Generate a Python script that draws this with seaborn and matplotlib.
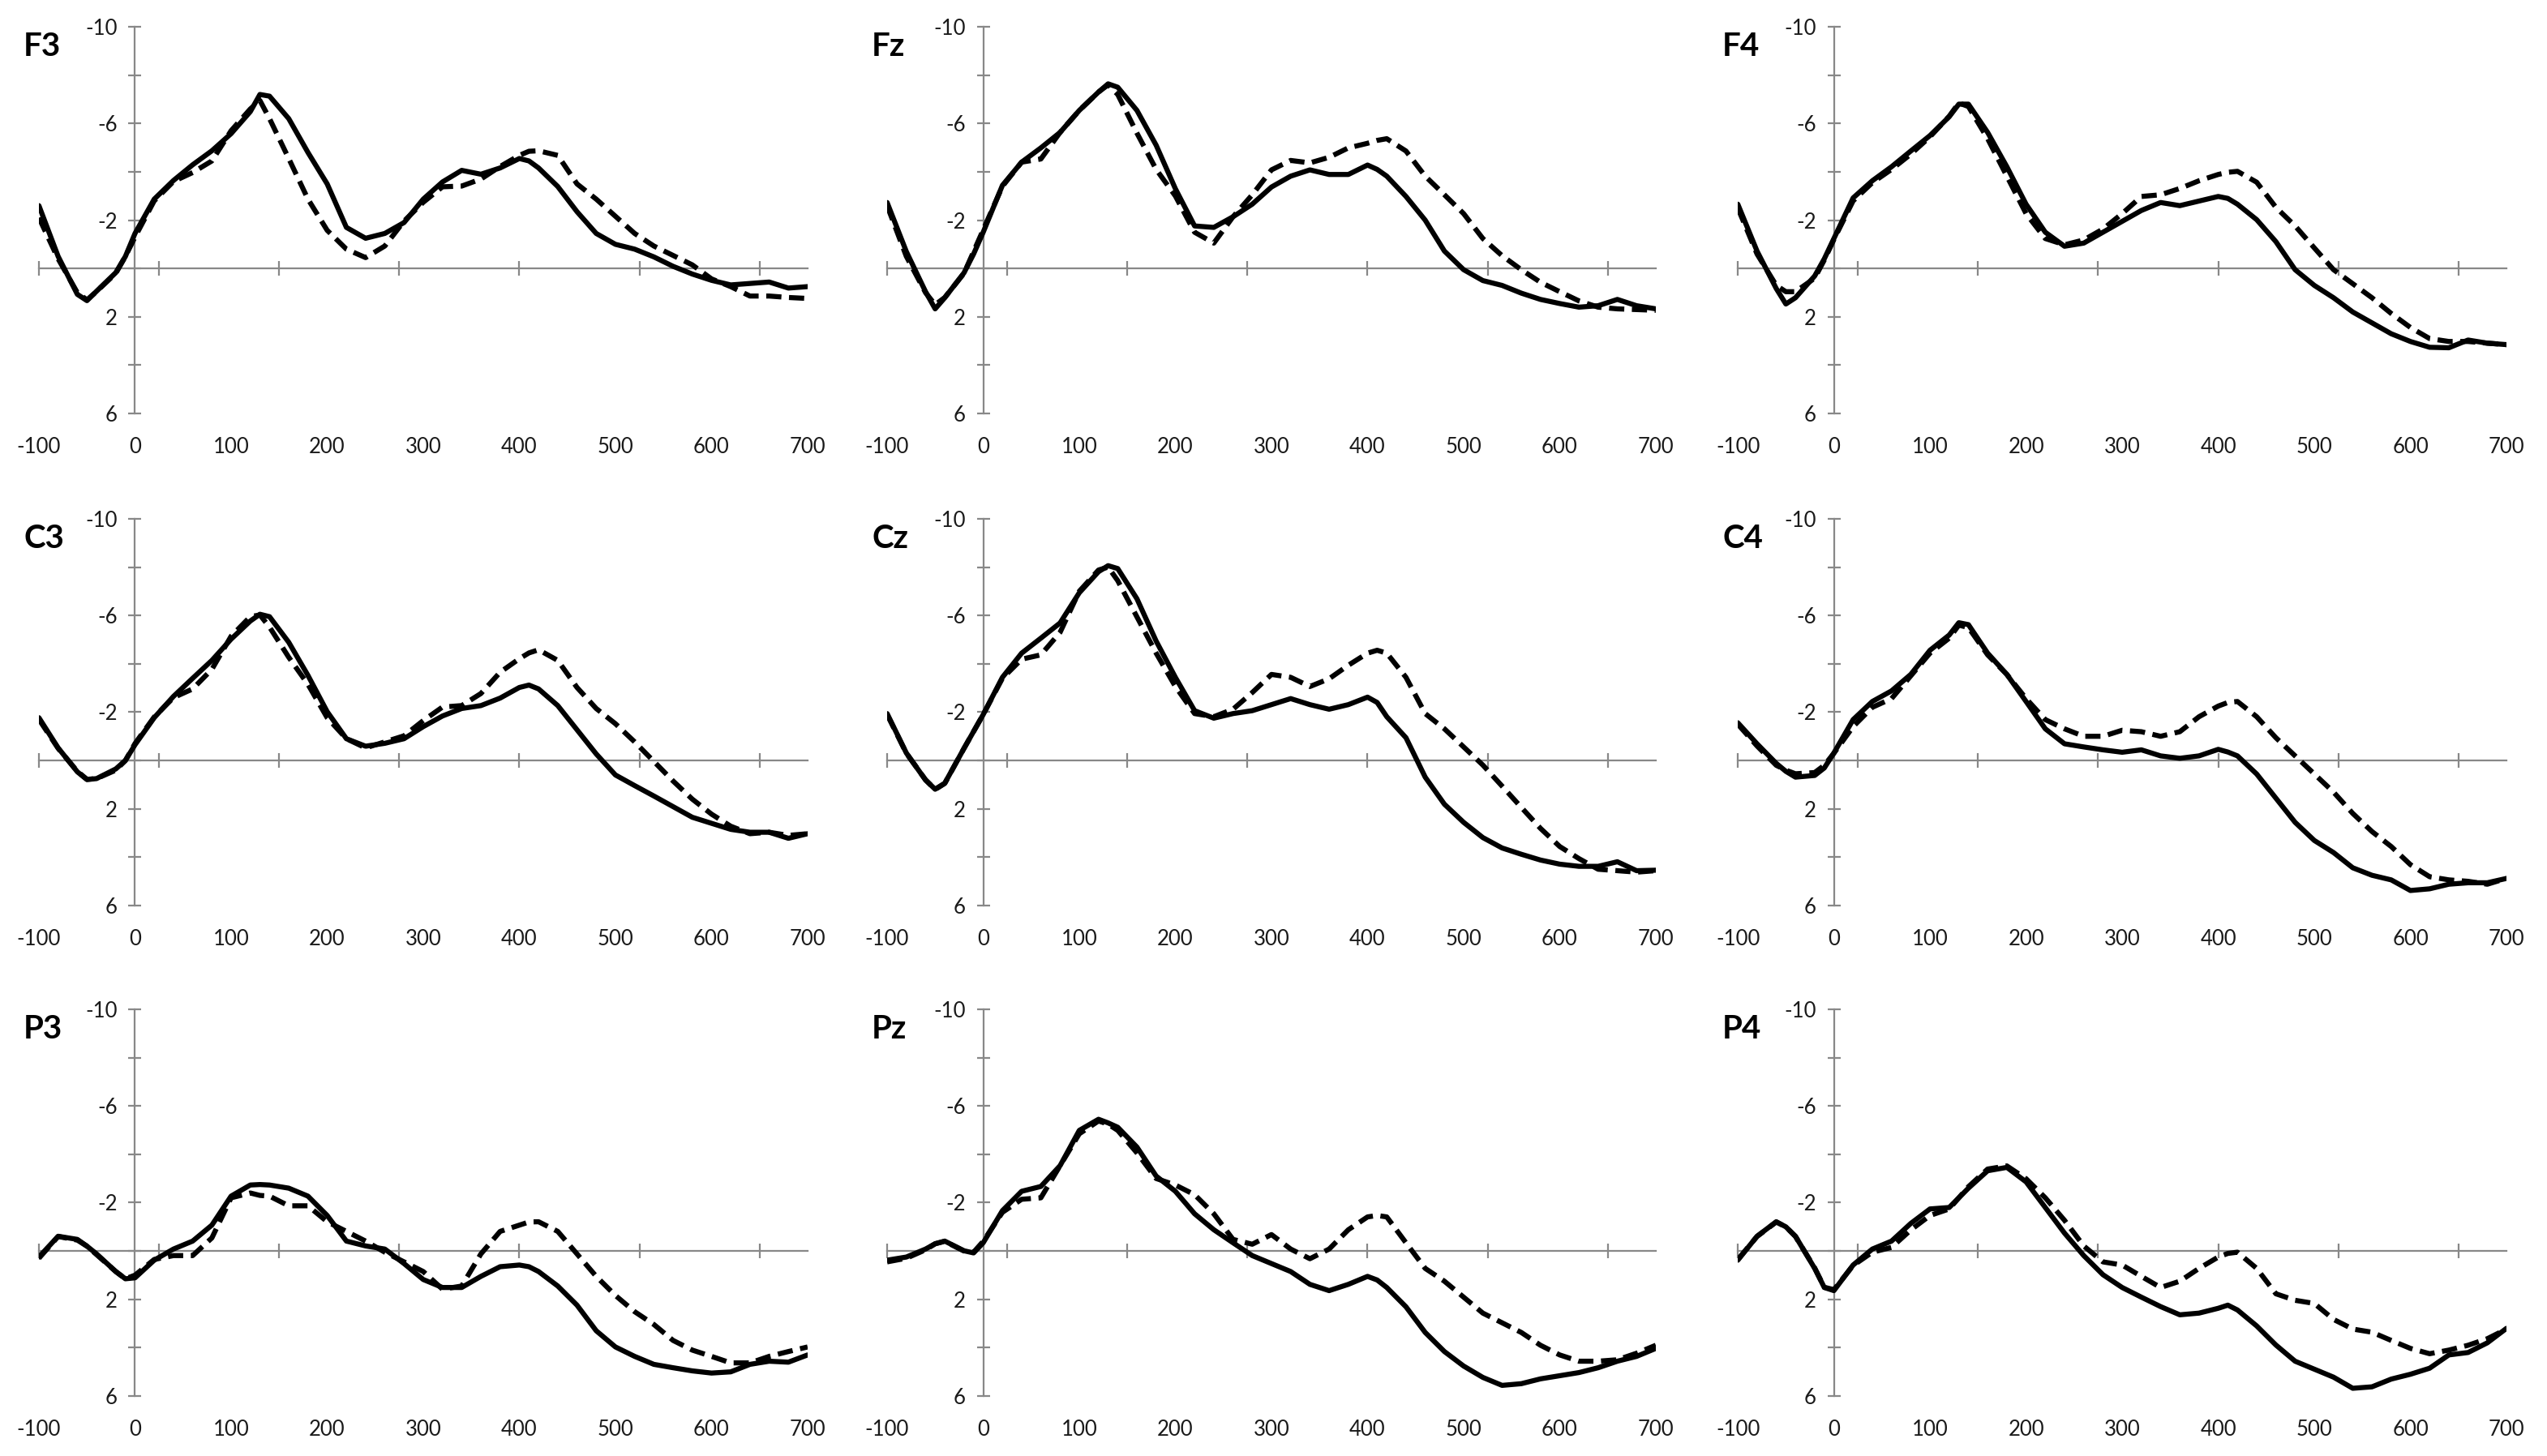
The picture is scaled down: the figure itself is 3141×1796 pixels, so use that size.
import matplotlib
matplotlib.use("Agg")
import matplotlib.pyplot as plt
import numpy as np
import pandas as pd
import seaborn as sns
from matplotlib.ticker import FixedLocator, FixedFormatter

# ---------------- data (ms, microvolts; negative plotted up) ----------------
TIME = [-100, -80, -60, -50, -40, -20, -10, 0, 20, 40, 60, 80, 100, 120, 130, 140,
        160, 180, 200, 220, 240, 260, 280, 300, 320, 340, 360, 380, 400, 410, 420,
        440, 460, 480, 500, 520, 540, 560, 580, 600, 620, 640, 660, 680, 700]

F3_A = [-2.6, -0.5, 1.07, 1.33, 0.94, 0.17, -0.5, -1.45, -2.87, -3.64, -4.29, -4.87, -5.58, -6.49, -7.2, -7.13,
        -6.2, -4.8, -3.5, -1.7, -1.25, -1.45, -1.9, -2.87, -3.58, -4.06, -3.9, -4.16, -4.55, -4.45, -4.16,
        -3.39, -2.35, -1.45, -1.0, -0.8, -0.48, -0.09, 0.23, 0.49, 0.68, 0.62, 0.56, 0.81, 0.75]
F3_B = [-2.1, -0.4, 1.0, 1.3, 0.95, 0.2, -0.5, -1.3, -2.8, -3.6, -3.97, -4.45, -5.7, -6.6, -6.95, -6.2,
        -4.55, -2.87, -1.58, -0.8, -0.45, -0.93, -1.96, -2.74, -3.38, -3.41, -3.7, -4.22, -4.68, -4.85, -4.87,
        -4.68, -3.5, -2.87, -2.16, -1.45, -0.93, -0.54, -0.15, 0.43, 0.75, 1.14, 1.14, 1.2, 1.24]

FZ_A = [-2.73, -0.7, 0.96, 1.67, 1.21, 0.18, -0.6, -1.5, -3.44, -4.4, -4.99, -5.63, -6.54, -7.3, -7.64, -7.5,
        -6.54, -5.1, -3.3, -1.76, -1.7, -2.14, -2.66, -3.37, -3.82, -4.08, -3.89, -3.89, -4.28, -4.1, -3.82,
        -2.98, -2.0, -0.72, 0.05, 0.5, 0.7, 1.02, 1.28, 1.45, 1.6, 1.54, 1.28, 1.54, 1.67]
FZ_B = [-2.6, -0.5, 1.0, 1.5, 1.2, 0.2, -0.7, -1.6, -3.4, -4.4, -4.53, -5.63, -6.54, -7.3, -7.6, -7.2,
        -5.6, -4.1, -3.0, -1.5, -1.05, -2.14, -3.05, -4.08, -4.47, -4.37, -4.6, -4.99, -5.18, -5.3, -5.37,
        -4.86, -3.82, -3.05, -2.27, -1.24, -0.53, 0.05, 0.57, 0.96, 1.34, 1.6, 1.67, 1.7, 1.73]

F4_A = [-2.66, -0.72, 0.83, 1.47, 1.21, 0.31, -0.4, -1.24, -2.92, -3.63, -4.21, -4.86, -5.5, -6.28, -6.8, -6.8,
        -5.63, -4.21, -2.66, -1.5, -0.92, -1.05, -1.5, -1.95, -2.4, -2.73, -2.6, -2.79, -2.98, -2.9, -2.66,
        -2.02, -1.11, 0.05, 0.7, 1.21, 1.8, 2.25, 2.7, 3.02, 3.26, 3.28, 2.96, 3.09, 3.15]
F4_B = [-2.5, -0.6, 0.7, 0.96, 0.96, 0.4, -0.35, -1.2, -2.8, -3.55, -4.1, -4.73, -5.45, -6.3, -6.85, -6.7,
        -5.37, -3.82, -2.27, -1.24, -0.98, -1.18, -1.63, -2.27, -2.98, -3.05, -3.31, -3.63, -3.89, -3.98, -4.02,
        -3.57, -2.53, -1.76, -0.85, 0.05, 0.63, 1.21, 1.86, 2.44, 2.9, 3.02, 3.02, 3.09, 3.15]

C3_A = [-1.77, -0.52, 0.47, 0.79, 0.75, 0.35, 0.0, -0.65, -1.77, -2.65, -3.4, -4.14, -5.02, -5.77, -6.05, -5.95,
        -4.89, -3.52, -2.02, -0.9, -0.59, -0.71, -0.9, -1.4, -1.84, -2.15, -2.27, -2.58, -3.02, -3.12, -2.96,
        -2.27, -1.27, -0.27, 0.6, 1.04, 1.47, 1.91, 2.35, 2.6, 2.85, 2.97, 2.97, 3.22, 3.03]
C3_B = [-1.7, -0.5, 0.45, 0.78, 0.75, 0.4, 0.0, -0.7, -1.8, -2.6, -2.96, -3.77, -5.14, -5.95, -6.02, -5.52,
        -4.27, -3.15, -1.77, -0.9, -0.52, -0.77, -1.02, -1.65, -2.21, -2.27, -2.77, -3.65, -4.21, -4.45, -4.58,
        -4.14, -3.02, -2.15, -1.52, -0.77, 0.04, 0.85, 1.6, 2.22, 2.72, 3.03, 2.97, 3.1, 3.03]

CZ_A = [-1.94, -0.31, 0.81, 1.19, 0.94, -0.5, -1.2, -1.9, -3.44, -4.44, -5.06, -5.69, -6.94, -7.81, -8.06, -7.94,
        -6.69, -4.94, -3.44, -2.06, -1.75, -1.94, -2.06, -2.31, -2.56, -2.31, -2.12, -2.31, -2.62, -2.4, -1.81,
        -0.94, 0.69, 1.81, 2.56, 3.19, 3.62, 3.88, 4.12, 4.29, 4.38, 4.38, 4.19, 4.56, 4.54]
CZ_B = [-1.9, -0.3, 0.8, 1.2, 0.95, -0.5, -1.2, -1.9, -3.4, -4.19, -4.37, -5.3, -7.0, -7.88, -8.0, -7.44,
        -5.94, -4.44, -3.06, -1.94, -1.81, -2.12, -2.81, -3.56, -3.44, -3.06, -3.38, -3.94, -4.44, -4.56, -4.44,
        -3.44, -1.94, -1.31, -0.56, 0.19, 1.06, 1.94, 2.81, 3.56, 4.06, 4.5, 4.56, 4.62, 4.56]

C4_A = [-1.56, -0.69, 0.12, 0.45, 0.69, 0.62, 0.31, -0.31, -1.69, -2.44, -2.88, -3.56, -4.56, -5.19, -5.7, -5.62,
        -4.44, -3.56, -2.44, -1.31, -0.69, -0.56, -0.44, -0.34, -0.44, -0.19, -0.09, -0.19, -0.46, -0.35, -0.19,
        0.56, 1.56, 2.56, 3.31, 3.81, 4.44, 4.75, 4.94, 5.38, 5.31, 5.12, 5.06, 5.06, 4.88]
C4_B = [-1.5, -0.6, 0.2, 0.4, 0.55, 0.5, 0.2, -0.3, -1.4, -2.2, -2.56, -3.5, -4.44, -5.06, -5.6, -5.5,
        -4.37, -3.56, -2.56, -1.69, -1.31, -1.0, -1.0, -1.25, -1.19, -1.0, -1.19, -1.81, -2.25, -2.4, -2.44,
        -1.81, -0.94, -0.19, 0.56, 1.31, 2.19, 2.94, 3.56, 4.31, 4.81, 4.94, 5.0, 5.12, 4.88]

P3_A = [0.25, -0.61, -0.48, -0.2, 0.12, 0.85, 1.15, 1.11, 0.38, -0.08, -0.41, -1.07, -2.27, -2.73, -2.75, -2.73,
        -2.6, -2.27, -1.47, -0.41, -0.21, -0.08, 0.52, 1.18, 1.51, 1.51, 1.05, 0.65, 0.58, 0.65, 0.85,
        1.45, 2.24, 3.3, 3.97, 4.36, 4.69, 4.83, 4.96, 5.05, 5.0, 4.69, 4.56, 4.6, 4.3]
P3_B = [0.3, -0.6, -0.45, -0.2, 0.15, 0.85, 1.15, 1.0, 0.35, 0.19, 0.19, -0.54, -2.2, -2.4, -2.3, -2.27,
        -1.87, -1.87, -1.21, -0.81, -0.41, 0.05, 0.45, 0.85, 1.58, 1.45, 0.12, -0.81, -1.07, -1.2, -1.21,
        -0.81, 0.12, 1.05, 1.84, 2.51, 3.04, 3.7, 4.1, 4.36, 4.63, 4.63, 4.36, 4.16, 3.97]

PZ_A = [0.38, 0.25, -0.08, -0.3, -0.41, -0.01, 0.08, -0.34, -1.67, -2.47, -2.67, -3.53, -4.99, -5.45, -5.3, -5.12,
        -4.3, -3.1, -2.47, -1.54, -0.88, -0.34, 0.19, 0.52, 0.85, 1.38, 1.64, 1.38, 1.05, 1.2, 1.51,
        2.31, 3.37, 4.16, 4.76, 5.23, 5.56, 5.49, 5.29, 5.16, 5.03, 4.83, 4.56, 4.36, 4.03]
PZ_B = [0.45, 0.3, -0.05, -0.3, -0.4, 0.0, 0.05, -0.4, -1.6, -2.14, -2.2, -3.53, -4.85, -5.38, -5.25, -4.99,
        -4.06, -3.0, -2.73, -2.33, -1.54, -0.48, -0.28, -0.68, -0.08, 0.32, -0.08, -0.88, -1.41, -1.47, -1.41,
        -0.34, 0.72, 1.25, 1.91, 2.57, 2.97, 3.37, 3.9, 4.3, 4.56, 4.56, 4.5, 4.23, 3.9]

P4_A = [0.38, -0.61, -1.21, -1.0, -0.61, 0.72, 1.51, 1.64, 0.58, -0.08, -0.41, -1.14, -1.74, -1.8, -2.2, -2.6,
        -3.32, -3.46, -2.86, -1.8, -0.74, 0.19, 0.98, 1.51, 1.91, 2.3, 2.64, 2.57, 2.37, 2.24, 2.44,
        3.1, 3.89, 4.56, 4.89, 5.22, 5.68, 5.62, 5.3, 5.1, 4.85, 4.3, 4.2, 3.8, 3.2]
P4_B = [0.35, -0.6, -1.2, -1.0, -0.6, 0.7, 1.5, 1.6, 0.6, 0.05, -0.15, -0.87, -1.47, -1.74, -2.2, -2.66,
        -3.39, -3.52, -2.99, -2.2, -1.27, -0.21, 0.45, 0.58, 1.05, 1.51, 1.25, 0.72, 0.25, 0.1, 0.05,
        0.72, 1.77, 2.04, 2.17, 2.83, 3.23, 3.36, 3.7, 4.03, 4.25, 4.1, 3.9, 3.63, 3.23]

PANEL_NAMES = ["F3", "Fz", "F4", "C3", "Cz", "C4", "P3", "Pz", "P4"]
SERIES_A = [F3_A, FZ_A, F4_A, C3_A, CZ_A, C4_A, P3_A, PZ_A, P4_A]
SERIES_B = [F3_B, FZ_B, F4_B, C3_B, CZ_B, C4_B, P3_B, PZ_B, P4_B]

X_LABEL_TICKS = [-100, 0, 100, 200, 300, 400, 500, 600, 700]
X_MARK_TICKS = [-100, 25, 150, 275, 400, 525, 650]
Y_TICKS = [-10, -8, -6, -4, -2, 0, 2, 4, 6]
Y_LABELS = ["-10", "", "-6", "", "-2", "", "2", "", "6"]

# ---------------- style ----------------
sns.set_style("white")
plt.rcParams["font.family"] = ["Lato", "DejaVu Sans"]

AXIS_GRAY = "#888888"
TEXT_COLOR = "#1a1a1a"

fig = plt.figure(figsize=(31.41, 17.96), dpi=100)
fig.patch.set_facecolor("white")

lefts = [0.01528, 0.3483, 0.6823]
bottoms = [0.7160, 0.3781, 0.0412]
W, H = 0.3018, 0.2656

for i, name in enumerate(PANEL_NAMES):
    r, c = divmod(i, 3)
    ax = fig.add_axes([lefts[c], bottoms[r], W, H])
    df = pd.DataFrame({"time": TIME, "a": SERIES_A[i], "b": SERIES_B[i]})

    sns.lineplot(data=df, x="time", y="b", ax=ax, color="black", linewidth=4.5,
                 linestyle=(0, (3.0, 1.5)), dash_capstyle="butt", dash_joinstyle="round",
                 sort=False, estimator=None)
    sns.lineplot(data=df, x="time", y="a", ax=ax, color="black", linewidth=4.5,
                 solid_joinstyle="round", solid_capstyle="round", sort=False,
                 estimator=None)

    ax.set_xlim(-100, 700)
    ax.set_ylim(6, -10)
    ax.set_xlabel("")
    ax.set_ylabel("")
    ax.set_facecolor("white")
    ax.grid(False)

    for s in ["top", "right"]:
        ax.spines[s].set_visible(False)
    ax.spines["left"].set_position(("data", 0))
    ax.spines["bottom"].set_position(("data", 0))
    for s in ["left", "bottom"]:
        ax.spines[s].set_color(AXIS_GRAY)
        ax.spines[s].set_linewidth(1.6)
        ax.spines[s].set_zorder(0.5)
    ax.spines["left"].set_bounds(6, -10)

    ax.yaxis.set_major_locator(FixedLocator(Y_TICKS))
    ax.yaxis.set_major_formatter(FixedFormatter(Y_LABELS))
    ax.tick_params(axis="y", direction="inout", length=11, width=1.6, color=AXIS_GRAY,
                   labelsize=18.5, labelcolor=TEXT_COLOR, pad=10, left=True)

    ax.xaxis.set_major_locator(FixedLocator(X_MARK_TICKS))
    ax.xaxis.set_major_formatter(FixedFormatter([""] * len(X_MARK_TICKS)))
    ax.tick_params(axis="x", direction="inout", length=13, width=1.6, color=AXIS_GRAY,
                   bottom=True)

    sec = ax.secondary_xaxis(0)
    sec.set_xticks(X_LABEL_TICKS)
    sec.set_xticklabels([str(v) for v in X_LABEL_TICKS])
    sec.spines["bottom"].set_visible(False)
    sec.tick_params(axis="x", length=0, labelsize=18.5, labelcolor=TEXT_COLOR, pad=21)

    ax.text(-0.02, 0.949, name, transform=ax.transAxes, ha="left", va="center",
            fontsize=29, fontweight="bold", color="black")

fig.savefig("out.png", dpi=100, facecolor="white")
